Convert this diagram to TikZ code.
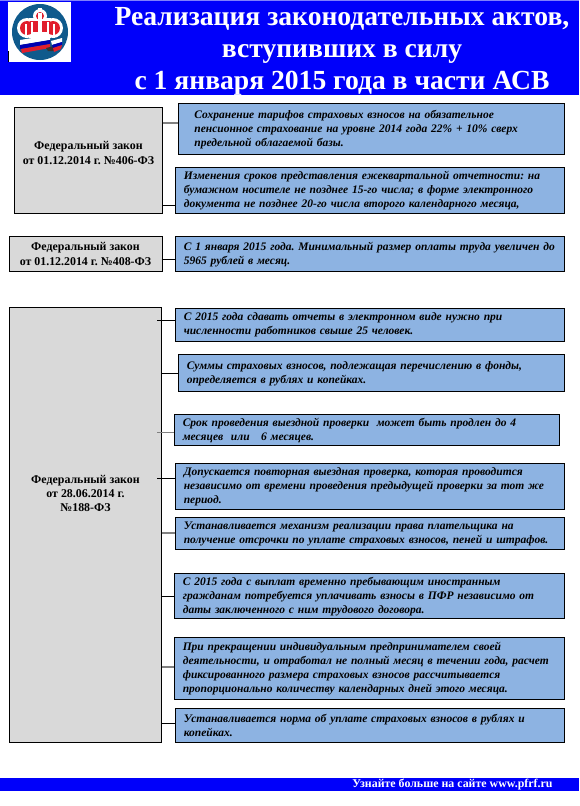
\documentclass[tikz,border=0pt]{standalone}
\usepackage{fontspec}
\setmainfont{Liberation Serif}
\definecolor{headblue}{RGB}{0,0,250}
\definecolor{boxblue}{RGB}{141,179,226}
\definecolor{boxgray}{RGB}{217,217,217}
\definecolor{logoblue}{RGB}{15,90,140}
\definecolor{logored}{RGB}{225,30,45}
\tikzset{
	lawbox/.style={draw=black, line width=1pt, fill=boxgray, align=center, inner sep=0pt, font=\fontsize{11.9}{15}\selectfont\bfseries\frenchspacing},
	infobox/.style={draw=black, line width=1pt, fill=boxblue, align=left, anchor=north west, inner xsep=8pt, inner ysep=0pt, font=\fontsize{11.5}{14}\selectfont\bfseries\itshape\frenchspacing},
	link/.style={draw=black, line width=0.8pt},
	paleline/.style={draw=black!50, line width=1.2pt},
}
\begin{document}
\begin{tikzpicture}[x=1pt, y=-1pt]
	\useasboundingbox (0,0) rectangle (579,806);
	% header
	\fill[headblue] (0,0) rectangle (579,95);
	\fill[headblue!50] (0,0) rectangle (579,1);
	\fill[white] (8,2) rectangle (71,62);
	\draw[black, line width=0.8pt] (8,51) -- (8,62);
	% logo
	\fill[logoblue] (40,32) circle (28);
	\fill[white] (27,28) circle (10);
	\fill[white] (53,28) circle (10);
	\fill[white] (29,18) rectangle (51,40);
	\fill[white] (40,16) circle (7);
	\fill[white] (38,8) rectangle (42,14);
	\fill[logored] (27,28) circle (7);
	\fill[logored] (53,28) circle (7);
	\fill[logored] (40,16) circle (4);
	\fill[logored] (30,21) rectangle (50,32);
	\fill[white] (25,24) rectangle (27,40);
	\fill[white] (31,22) rectangle (33,40);
	\fill[white] (38,13) rectangle (42,40);
	\fill[white] (47,22) rectangle (49,40);
	\fill[white] (53,24) rectangle (55,40);
	\fill[logoblue] (20,40) rectangle (60,38);
	\fill[white] (20,40) -- (50,35) -- (50,40) -- (20,45) -- cycle;
	\fill[blue!70!black] (20,45) -- (50,40) -- (50,44) -- (20,49) -- cycle;
	\fill[logored] (21,49) -- (50,44) -- (50,48) -- (22,53) -- cycle;
	\fill[black!80] (46,48) -- (54,46) -- (55,51) -- (48,51) -- cycle;
	\fill[white] (51,41) -- (62,38) -- (62,42) -- (52,45) -- cycle;
	\fill[blue!70!black] (52,45) -- (62,42) -- (62,45) -- (53,48) -- cycle;
	\fill[logored] (53,48) -- (62,45) -- (61,49) -- (54,52) -- cycle;
	\node[white, font=\fontsize{27.6}{32}\selectfont\bfseries, align=center] (title) at (342,51.5) {Реализация законодательных актов,\\вступивших в силу\\с 1 января 2015 года в части АСВ};
	% laws
	\node[lawbox, minimum width=148pt, minimum height=106pt] (lawA) at (88.5,160.3) {Федеральный закон\\от 01.12.2014 г. №406-ФЗ\\[0pt]\mbox{}};
	\node[lawbox, minimum width=153pt, minimum height=35pt] (lawB) at (85.5,253.8) {Федеральный закон\\от 01.12.2014 г. №408-ФЗ};
	\node[lawbox, minimum width=152pt, minimum height=435pt] (lawC) at (85.5,524.6) {Федеральный закон\\[-1pt]от 28.06.2014 г.\\[-1pt]№188-ФЗ\\[48pt]\mbox{}};
	% texts
	\node[infobox, text width=354.6pt, minimum height=51pt, inner xsep=15.5pt] (infoA) at (178.4,103.3) {Сохранение тарифов страховых взносов на обязательное\\пенсионное страхование на уровне 2014 года 22\% + 10\% сверх\\предельной облагаемой базы.};
	\node[infobox, text width=372.6pt, minimum height=46pt] (infoB) at (175.4,167.3) {Изменения сроков представления ежеквартальной отчетности: на\\бумажном носителе не позднее 15-го числа; в форме электронного\\документа не позднее 20-го числа второго календарного месяца,};
	\node[infobox, text width=372.6pt, minimum height=35pt] (infoC) at (175.4,236.3) {С 1 января 2015 года. Минимальный размер оплаты труда увеличен до\\5965 рублей в месяц.};
	\node[infobox, text width=372.4pt, minimum height=32.4pt] (infoD) at (175.3,308.3) {С 2015 года сдавать отчеты в электронном виде нужно при\\численности работников свыше 25 человек.};
	\node[infobox, text width=369.4pt, minimum height=37pt] (infoE) at (178.3,354.3) {Суммы страховых взносов, подлежащая перечислению в фонды,\\определяется в рублях и копейках.};
	\node[infobox, text width=369pt, minimum height=31pt] (infoF) at (174.3,414.3) {Срок проведения выездной проверки \ может быть продлен до 4\\месяцев \ или \ \ 6 месяцев.};
	\node[infobox, text width=372.4pt, minimum height=46pt] (infoG) at (175.3,463.3) {Допускается повторная выездная проверка, которая проводится\\независимо от времени проведения предыдущей проверки за тот же\\период.};
	\node[infobox, text width=372.4pt, minimum height=32.6pt] (infoH) at (175.3,516.7) {Устанавливается механизм реализации права плательщика на\\получение отсрочки по уплате страховых взносов, пеней и штрафов.};
	\node[infobox, text width=373.4pt, minimum height=45pt] (infoI) at (174.3,573.3) {С 2015 года с выплат временно пребывающим иностранным\\гражданам потребуется уплачивать взносы в ПФР независимо от\\даты заключенного с ним трудового договора.};
	\node[infobox, text width=373.4pt, minimum height=62pt] (infoJ) at (174.3,637.3) {При прекращении индивидуальным предпринимателем своей\\деятельности, и отработал не полный месяц в течении года, расчет\\фиксированного размера страховых взносов рассчитывается\\пропорционально количеству календарных дней этого месяца.};
	\node[infobox, text width=372.4pt, minimum height=34pt] (infoK) at (175.3,708.3) {Устанавливается норма об уплате страховых взносов в рублях и\\копейках.};
	% links
	\coordinate (tieA) at (162.5,123);
	\coordinate (tieB) at (162.5,205);
	\coordinate (tieC) at (161.7,259);
	\coordinate (tieD) at (157,320.7);
	\coordinate (tieE) at (161.7,373);
	\coordinate (tieF) at (157,432.3);
	\coordinate (tieG) at (157,478.3);
	\coordinate (tieH) at (161.7,533);
	\coordinate (tieI) at (161.7,596.7);
	\coordinate (tieJ) at (161.7,667);
	\coordinate (tieK) at (161.7,723.3);
	\draw[paleline] (tieA) -- (tieA -| infoA.west);
	\draw[link] (tieB) -- (tieB -| infoB.west);
	\draw[link] (tieC) -- (tieC -| infoC.west);
	\draw[link] (tieD) -- (tieD -| infoD.west);
	\draw[link] (tieE) -- (tieE -| infoE.west);
	\draw[paleline] (tieF) -- (tieF -| infoF.west);
	\draw[link] (tieG) -- (tieG -| infoG.west);
	\draw[paleline] (tieH) -- (tieH -| infoH.west);
	\draw[link] (tieI) -- (tieI -| infoI.west);
	\draw[paleline] (tieJ) -- (tieJ -| infoJ.west);
	\draw[link] (tieK) -- (tieK -| infoK.west);
	% footer
	\fill[headblue] (0,777.7) rectangle (579,791);
	\node[white, anchor=east, inner sep=0pt, font=\fontsize{11.9}{13}\selectfont\bfseries] (site) at (552.7,784.3) {Узнайте больше на сайте www.pfrf.ru};
\end{tikzpicture}
\end{document}
